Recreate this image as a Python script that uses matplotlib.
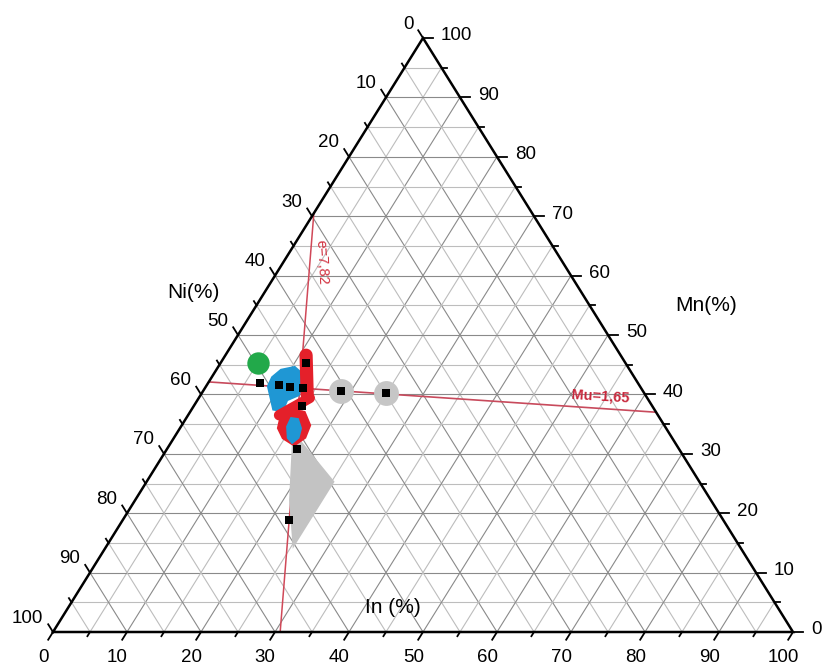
import numpy as np
import matplotlib.pyplot as plt

plt.rcParams['font.family'] = ['Liberation Sans', 'DejaVu Sans']

# compositions in at.%: In = bottom axis, Mn = right axis, Ni = 100 - In - Mn
tick_vals = list(range(0, 101, 10))
minor_vals = list(range(5, 100, 10))

ea_in = [0.0, 30.7]
ea_mn = [70.5, 0.0]
mu_in = [0.0, 63.0]
mu_mn = [42.1, 37.0]

samples_in = [7.0, 9.7, 11.4, 13.2, 11.5, 14.6, 17.6, 22.5, 18.6, 24.9]
samples_mn = [41.9, 41.6, 41.2, 41.1, 45.3, 38.0, 30.8, 18.9, 40.6, 40.2]

green_in = [5.1]
green_mn = [45.3]
grey_dot_in = [18.6, 24.9]
grey_dot_mn = [40.6, 40.2]

grey_zone_in = [16.2, 17.3, 25.4, 25.4, 20.8]
grey_zone_mn = [32.2, 32.3, 25.3, 14.0, 22.2]

blue_zone_in = [8.0, 8.6, 10.3, 12.0, 13.3, 13.4, 12.3, 12.6, 11.0, 9.5, 8.2]
blue_zone_mn = [43.0, 44.3, 44.8, 43.6, 41.6, 39.7, 38.9, 37.0, 37.3, 39.5, 41.4]

red_bar_in = [10.9, 14.4]
red_bar_mn = [46.6, 39.9]
red_diag_in = [15.0, 12.3]
red_diag_mn = [39.4, 36.5]
red_loop_in = [12.5, 13.6, 15.5, 17.5, 17.9, 17.0, 14.7, 13.1]
red_loop_mn = [36.2, 37.6, 37.2, 34.8, 32.6, 31.2, 32.5, 34.3]
blue_loop_in = [14.0, 15.2, 16.5, 17.0, 16.5, 15.3, 14.2]
blue_loop_mn = [36.2, 36.0, 34.3, 32.6, 31.6, 32.6, 34.6]


def tern(i, m):
    i = np.asarray(i, dtype=float)
    m = np.asarray(m, dtype=float)
    return i / 100 + m / 200, m / 100


fig = plt.figure(figsize=(8.25, 6.66), dpi=100)
ax = fig.add_axes([0, 0, 1, 1])
ax.set_xlim(-53 / 740, 772 / 740)
ax.set_ylim(-34 / 594, 632 / 594)
ax.axis('off')

# grid
for k in range(5, 100, 5):
    c = '#8a8a8a' if k % 10 == 0 else '#bdbdbd'
    for seg in [([0, 100 - k], [k, k]), ([k, k], [0, 100 - k]), ([0, 100 - k], [100 - k, 0])]:
        x, y = tern(*seg)
        ax.plot(x, y, color=c, lw=0.8, zorder=1)

# triangle
x, y = tern([0, 100, 0, 0], [0, 0, 100, 0])
ax.plot(x, y, color='black', lw=1.8, zorder=6, solid_joinstyle='miter')

# ticks
for v in tick_vals + minor_vals:
    t = 1.3 if v in tick_vals else 0.7
    x, y = tern([v, v], [0, -t])
    ax.plot(x, y, color='black', lw=1.3, zorder=6)
    x, y = tern([0, -t], [100 - v, 100 - v + t])
    ax.plot(x, y, color='black', lw=1.3, zorder=6)
    x, y = tern([100 - v, 100 - v + t], [v, v])
    ax.plot(x, y, color='black', lw=1.3, zorder=6)

for v in tick_vals:
    ax.annotate(str(v), tern(v, 0), xytext=(-7, -18), textcoords='offset points',
                ha='center', va='center', fontsize=13.5)
    ax.annotate(str(v), tern(0, 100 - v), xytext=(-7, 10), textcoords='offset points',
                ha='right', va='center', fontsize=13.5)
    ax.annotate(str(v), tern(100 - v, v), xytext=(13, 1.5), textcoords='offset points',
                ha='left', va='center', fontsize=13.5)

ax.text(*tern(-9.6, 57.2), 'Ni(%)', fontsize=15, ha='center', va='center')
ax.text(*tern(60.8, 54.9), 'Mn(%)', fontsize=15, ha='center', va='center')
ax.text(*tern(43.8, 4.2), 'In (%)', fontsize=15, ha='center', va='center')

# e/a and Mu lines
ax.plot(*tern(ea_in, ea_mn), color='#d04858', lw=1.1, zorder=2)
ax.plot(*tern(mu_in, mu_mn), color='#c84a5c', lw=1.2, zorder=2)
ax.text(*tern(5.2, 62.3), 'e=7,82', color='#d2303f', fontsize=10.5,
        rotation=-87, ha='center', va='center', zorder=7)
ax.text(*tern(54.2, 39.6), 'Mu=1,65', color='#c8283c', fontsize=10.5,
        fontweight='bold', rotation=-3.5, ha='center', va='center', zorder=7)

# regions
ax.fill(*tern(grey_zone_in, grey_zone_mn), color='#c3c3c3', lw=0, zorder=3)
ax.fill(*tern(blue_zone_in, blue_zone_mn), color='#1f97d4', lw=0, zorder=3)
ax.fill(*tern(red_loop_in, red_loop_mn), color='#e4202a', lw=0, zorder=3)
ax.fill(*tern(blue_loop_in, blue_loop_mn), color='#1f97d4', lw=0, zorder=3.5)
ax.plot(*tern(red_bar_in, red_bar_mn), color='#e4202a', lw=9.5, zorder=3.6,
        solid_capstyle='round')
ax.plot(*tern(red_diag_in, red_diag_mn), color='#e4202a', lw=7.5, zorder=3.6,
        solid_capstyle='round')

ax.scatter(*tern(green_in, green_mn), s=260, color='#22a94a', zorder=4, lw=0)
ax.scatter(*tern(grey_dot_in, grey_dot_mn), s=320, color='#c6c6c6', zorder=4, lw=0)
ax.scatter(*tern(samples_in, samples_mn), s=34, marker='s', color='black', zorder=5, lw=0)

fig.savefig('out.png', dpi=100)
